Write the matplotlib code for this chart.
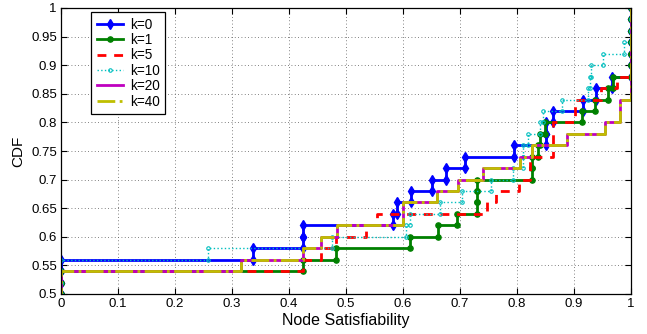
import numpy as np
import matplotlib
matplotlib.use('Agg')
import matplotlib.pyplot as plt

plt.rcParams['font.family'] = ['Liberation Sans', 'DejaVu Sans']

# node satisfiability of the 50 nodes, one list per k (sorted)
n_nodes = 50
k0 = [0.0] * 28 + [0.337, 0.424, 0.424, 0.583, 0.590, 0.614, 0.650, 0.675, 0.709,
                   0.795, 0.851, 0.851, 0.863, 0.915, 0.939, 0.966] + [1.0] * 6
k1 = [0.0] * 27 + [0.425, 0.482, 0.612, 0.662, 0.695, 0.729, 0.729, 0.729,
                   0.826, 0.826, 0.837, 0.840, 0.849, 0.914, 0.936, 0.960, 0.969] + [1.0] * 6
k5 = [0.0] * 27 + [0.425, 0.457, 0.482, 0.535, 0.555, 0.747, 0.764, 0.803,
                   0.823, 0.823, 0.864, 0.864, 0.864, 0.902, 0.902, 0.948, 0.975] + [1.0] * 6
k10 = [0.0] * 28 + [0.258, 0.475, 0.606, 0.612, 0.665, 0.703, 0.755, 0.793, 0.810, 0.810,
                    0.820, 0.840, 0.845, 0.879, 0.925, 0.928, 0.930, 0.951, 0.988] + [1.0] * 3
k20 = [0.0] * 27 + [0.315, 0.424, 0.457, 0.484, 0.600, 0.600, 0.659, 0.697, 0.741,
                    0.805, 0.826, 0.887, 0.954, 0.980, 0.980] + [1.0] * 8
k40 = [0.0] * 27 + [0.315, 0.424, 0.457, 0.484, 0.600, 0.600, 0.659, 0.697, 0.741,
                    0.805, 0.826, 0.887, 0.954, 0.980, 0.980] + [1.0] * 8

labels = ['k=0', 'k=1', 'k=5', 'k=10', 'k=20', 'k=40']


def stairs(samples):
    s = np.sort(np.asarray(samples, dtype=float))
    f = np.arange(1, len(s) + 1) / n_nodes
    x = np.repeat(s, 2)
    y = np.empty_like(x)
    y[0::2] = np.concatenate([[0.0], f[:-1]])
    y[1::2] = f
    return x, y


styles = [
    dict(color=(0, 0, 1), ls='-', lw=2.0, marker='d', ms=5.5),
    dict(color=(0, 0.5, 0), ls='-', lw=2.0, marker='.', ms=7.5),
    dict(color=(1, 0, 0), ls=(0, (3.2, 2.8)), lw=2.0),
    dict(color=(0, 0.75, 0.75), ls=':', lw=1.0, marker='o', ms=2.5, mfc='none', mew=0.8),
    dict(color=(0.75, 0, 0.75), ls='-', lw=2.0),
    dict(color=(0.75, 0.75, 0), ls='-.', lw=2.0),
]

fig = plt.figure(figsize=(6.47, 3.34), dpi=100)
ax = fig.add_axes([61 / 647, 40 / 334, 570 / 647, 286 / 334])

for data, lab, st in zip([k0, k1, k5, k10, k20, k40], labels, styles):
    x, y = stairs(data)
    ax.plot(x, y, label=lab, **st)

ax.set_xlim(0, 1)
ax.set_ylim(0.5, 1)
ax.set_xticks(np.arange(0, 1.01, 0.1))
ax.set_yticks(np.arange(0.5, 1.001, 0.05))
ax.set_xticklabels(['0', '0.1', '0.2', '0.3', '0.4', '0.5', '0.6', '0.7', '0.8', '0.9', '1'])
ax.set_yticklabels(['0.5', '0.55', '0.6', '0.65', '0.7', '0.75', '0.8', '0.85', '0.9', '0.95', '1'])
ax.tick_params(direction='in', top=True, right=True, labelsize=9.5, length=4, width=0.8, pad=3)
ax.grid(True, linestyle=(0, (1, 3)), color='0.35', linewidth=0.6)
for sp in ax.spines.values():
    sp.set_linewidth(0.9)

ax.set_xlabel('Node Satisfiability', fontsize=11.5, labelpad=2)
ax.set_ylabel('CDF', fontsize=11, labelpad=4)

leg = ax.legend(loc='upper left', bbox_to_anchor=(0.053, 0.985), borderaxespad=0,
                fontsize=9.8, handlelength=1.9, numpoints=1, labelspacing=0.1,
                fancybox=False, framealpha=1, edgecolor='black', borderpad=0.4,
                handletextpad=0.55)
leg.get_frame().set_linewidth(0.9)

fig.savefig('out.png', dpi=100)
